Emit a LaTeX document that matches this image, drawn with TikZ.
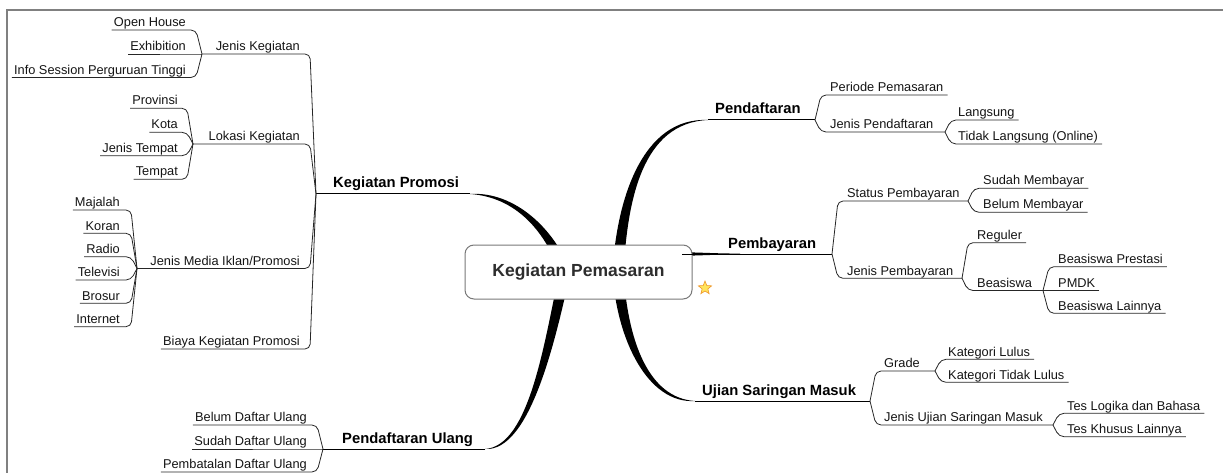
\documentclass[tikz,border=0pt]{standalone}
\usepackage{fontspec}
\setmainfont{Liberation Sans}
\usetikzlibrary{calc,shapes.geometric}
\pgfdeclarelayer{back}
\pgfsetlayers{back,main}

\definecolor{starfill}{RGB}{255,228,92}
\definecolor{staredge}{RGB}{238,150,40}
\definecolor{framegray}{RGB}{128,128,128}
\definecolor{boxgray}{RGB}{120,120,120}
\definecolor{centretext}{RGB}{45,45,45}

% topic on the left of the centre: name, text, right edge of text, y of its line
\newcommand\topicL[4]{\node[leaf, anchor=base east] (#1) at (#3,#4-3.3) {#2};}
% topic on the right of the centre: name, text, left edge of text, y of its line
\newcommand\topicR[4]{\node[leaf, anchor=base west] (#1) at (#3,#4-3.3) {#2};}
% free end of a leaf's line
\newcommand\tipL[1]{\coordinate (#1-end) at ([shift={(-2,3.3)}]#1.base west);}
\newcommand\tipR[1]{\coordinate (#1-end) at ([shift={(4,3.3)}]#1.base east);}
% line of a child, bending into its parent's junction
\newcommand\linkL[2]{\path (#1-end -| #2-end) ++(-6,0) coordinate (#1-bend);
  \draw[twig] (#1-end) -- (#1-bend) -- (#2-end);}
\newcommand\linkR[2]{\path (#1-end -| #2-end) ++(6,0) coordinate (#1-bend);
  \draw[twig] (#1-end) -- (#1-bend) -- (#2-end);}
% tapered main branch: start, control 1, control 2, end, vertical spread at control 2
\newcommand\limb[5]{%
  \fill[limb] ($(#1)+(-5.5,0)$) .. controls ($(#2)+(-5.5,0)$) and ($(#3)+(0,#5)$) .. (#4)
    .. controls ($(#3)+(0,{0-(#5)})$) and ($(#2)+(5.5,0)$) .. ($(#1)+(5.5,0)$) -- cycle;}

\begin{document}
\begin{tikzpicture}[x=1pt,y=-1pt,
  leaf/.style={font=\fontsize{12.8}{14}\selectfont, text=black!92, inner sep=0pt},
  major/.style={font=\fontsize{14.8}{17}\selectfont\bfseries, text=black, inner sep=0pt, anchor=base west},
  centre/.style={draw=boxgray, fill=white, line width=1pt, rounded corners=9pt,
    minimum width=227pt, minimum height=54pt, inner sep=0pt,
    font=\fontsize{17.5}{20}\selectfont\bfseries, text=centretext},
  starmark/.style={star, star points=5, star point ratio=2.3, minimum size=14pt,
    inner sep=0pt, fill=starfill, draw=staredge, line width=0.6pt},
  twig/.style={draw=black!85, line width=0.8pt, rounded corners=5pt},
  bough/.style={draw=black, line width=1pt},
  limb/.style={fill=black},
  frame/.style={draw=framegray, line width=1.3pt}]

\useasboundingbox (0,0) rectangle (1223,473);
\draw[frame] (1223,10) -- (7,10) -- (7,473);

% central topic
\node[centre] (root) at (578.5,272) {Kegiatan Pemasaran};
\node[starmark] (fav) at (705,288) {};
\coordinate (rootL) at ($(root.center)+(-13.5,0)$);
\coordinate (rootR) at ($(root.center)+(39.5,0)$);

% ---------- Kegiatan Promosi ----------
\node[major] (kp) at (333,188) {Kegiatan Promosi};
\coordinate (kp-end) at (316,194);
\coordinate (kp-near) at (470,194);
\draw[bough] (kp-end) -- (kp-near);

\topicL{jk}{Jenis Kegiatan}{300}{54}\coordinate (jk-end) at (202,54);\linkL{jk}{kp}
\topicL{oh}{Open House}{186}{30}\tipL{oh}\linkL{oh}{jk}
\topicL{ex}{Exhibition}{186}{54}\tipL{ex}\linkL{ex}{jk}
\topicL{is}{Info Session Perguruan Tinggi}{186}{77.5}\tipL{is}\linkL{is}{jk}

\topicL{lk}{Lokasi Kegiatan}{300}{144}\coordinate (lk-end) at (193,144);\linkL{lk}{kp}
\topicL{pv}{Provinsi}{178}{108.3}\tipL{pv}\linkL{pv}{lk}
\topicL{kt}{Kota}{178}{132.3}\tipL{kt}\linkL{kt}{lk}
\topicL{jt}{Jenis Tempat}{178}{155.7}\tipL{jt}\linkL{jt}{lk}
\topicL{tp}{Tempat}{178}{179.3}\tipL{tp}\linkL{tp}{lk}

\topicL{jm}{Jenis Media Iklan/Promosi}{300}{268.5}\coordinate (jm-end) at (137,268.5);\linkL{jm}{kp}
\topicL{mj}{Majalah}{120}{210}\tipL{mj}\linkL{mj}{jm}
\topicL{kr}{Koran}{120}{233.3}\tipL{kr}\linkL{kr}{jm}
\topicL{rd}{Radio}{120}{256.7}\tipL{rd}\linkL{rd}{jm}
\topicL{tv}{Televisi}{120}{280}\tipL{tv}\linkL{tv}{jm}
\topicL{br}{Brosur}{120}{303.3}\tipL{br}\linkL{br}{jm}
\topicL{in}{Internet}{120}{326.7}\tipL{in}\linkL{in}{jm}

\topicL{bk}{Biaya Kegiatan Promosi}{300}{349}\tipL{bk}\linkL{bk}{kp}

% ---------- Pendaftaran Ulang ----------
\node[major] (pu) at (342,443) {Pendaftaran Ulang};
\coordinate (pu-end) at (323,449);
\coordinate (pu-near) at (485,449);
\draw[bough] (pu-end) -- (pu-near);
\topicL{bdu}{Belum Daftar Ulang}{307}{425}\tipL{bdu}\linkL{bdu}{pu}
\topicL{sdu}{Sudah Daftar Ulang}{307}{449}\tipL{sdu}\linkL{sdu}{pu}
\topicL{pdu}{Pembatalan Daftar Ulang}{307}{472}\tipL{pdu}\linkL{pdu}{pu}

% ---------- Pendaftaran ----------
\node[major] (pd) at (715,114) {Pendaftaran};
\coordinate (pd-end) at (815,120);
\coordinate (pd-near) at (708,120);
\draw[bough] (pd-near) -- (pd-end);
\topicR{pp}{Periode Pemasaran}{830}{95}\tipR{pp}\linkR{pp}{pd}
\topicR{jp}{Jenis Pendaftaran}{830}{132}\coordinate (jp-end) at (945,132);\linkR{jp}{pd}
\topicR{ls}{Langsung}{958}{120}\tipR{ls}\linkR{ls}{jp}
\topicR{tl}{Tidak Langsung (Online)}{958}{144}\tipR{tl}\linkR{tl}{jp}

% ---------- Pembayaran ----------
\node[major] (pb) at (728,248) {Pembayaran};
\coordinate (pb-end) at (832,254);
\coordinate (pb-near) at (682,254);
\draw[bough] (pb-near) -- (pb-end);
\topicR{sp}{Status Pembayaran}{847}{201}\coordinate (sp-end) at (968,201);\linkR{sp}{pb}
\topicR{sm}{Sudah Membayar}{983}{188.3}\tipR{sm}\linkR{sm}{sp}
\topicR{bm}{Belum Membayar}{983}{212.3}\tipR{bm}\linkR{bm}{sp}
\topicR{jb}{Jenis Pembayaran}{847}{278.3}\coordinate (jb-end) at (962,278.3);\linkR{jb}{pb}
\topicR{rg}{Reguler}{977}{242.7}\tipR{rg}\linkR{rg}{jb}
\topicR{bs}{Beasiswa}{977}{290.5}\coordinate (bs-end) at (1043,290.5);\linkR{bs}{jb}
\topicR{bp}{Beasiswa Prestasi}{1058}{266.7}\tipR{bp}\linkR{bp}{bs}
\topicR{pm}{PMDK}{1058}{290.5}\tipR{pm}\linkR{pm}{bs}
\topicR{bl}{Beasiswa Lainnya}{1058}{313.3}\tipR{bl}\linkR{bl}{bs}

% ---------- Ujian Saringan Masuk ----------
\node[major] (us) at (702,395) {Ujian Saringan Masuk};
\coordinate (us-end) at (870,401);
\coordinate (us-near) at (695,401);
\draw[bough] (us-near) -- (us-end);
\topicR{gr}{Grade}{884}{371}\coordinate (gr-end) at (935,371);\linkR{gr}{us}
\topicR{kl}{Kategori Lulus}{948}{359.3}\tipR{kl}\linkR{kl}{gr}
\topicR{kd}{Kategori Tidak Lulus}{948}{382.3}\tipR{kd}\linkR{kd}{gr}
\topicR{ju}{Jenis Ujian Saringan Masuk}{884}{425}\coordinate (ju-end) at (1053,425);\linkR{ju}{us}
\topicR{tlb}{Tes Logika dan Bahasa}{1067}{413.3}\tipR{tlb}\linkR{tlb}{ju}
\topicR{tkl}{Tes Khusus Lainnya}{1067}{436.7}\tipR{tkl}\linkR{tkl}{ju}

% tapered main branches, running under the central topic
\begin{pgfonlayer}{back}
  \limb{rootL}{550,230}{515,194}{kp-near}{3}
  \limb{rootL}{550,340}{530,449}{pu-near}{-3}
  \limb{rootR}{622,200}{642,120}{pd-near}{-3}
  \limb{rootR}{622,340}{648,401}{us-near}{3}
  \fill[limb] ($(pb-near)+(0,-1.8)$) .. controls (705,252.6) and (715,253.5) .. (740,253.6)
    -- (740,254.4) .. controls (715,254.5) and (705,255.4) .. ($(pb-near)+(0,1.8)$) -- cycle;
\end{pgfonlayer}
\end{tikzpicture}
\end{document}
